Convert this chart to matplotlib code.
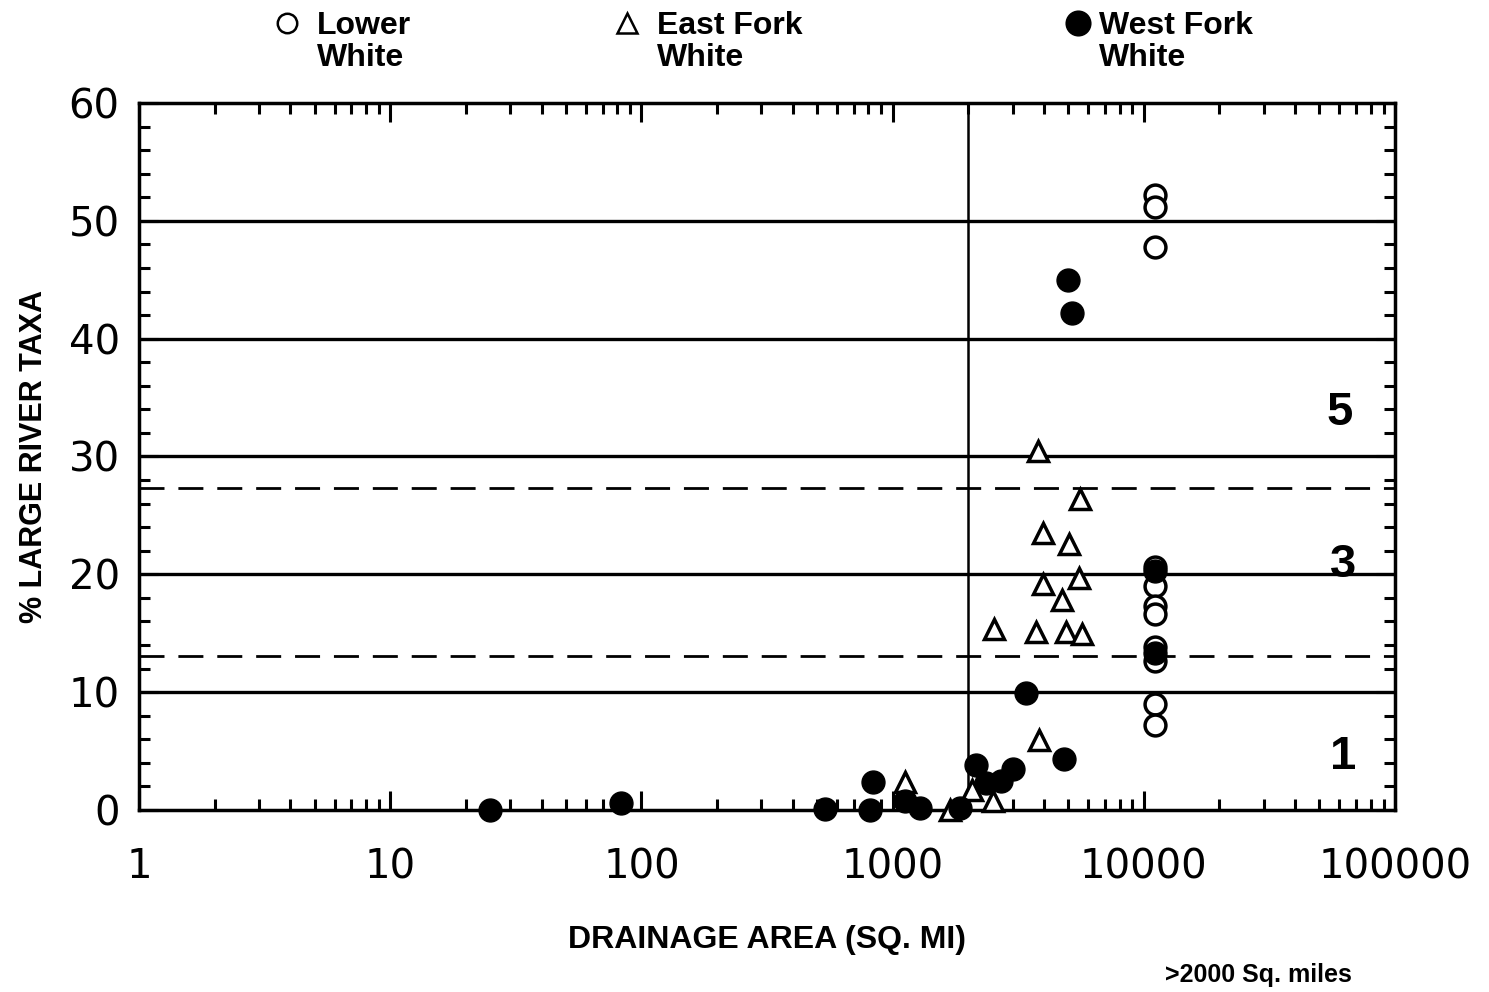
import numpy as np
import matplotlib.pyplot as plt
from matplotlib.lines import Line2D
from matplotlib.ticker import LogLocator, MultipleLocator, NullFormatter, FixedLocator, FixedFormatter

# ------------------------------------------------------------
# data: % large river taxa vs drainage area (sq. mi)
# ------------------------------------------------------------
lower_area = [11100, 11100, 11100, 11100, 11100, 11100, 11100, 11100, 11100, 11100, 11100]
lower_pct = [52.2, 51.2, 47.8, 20.6, 19.0, 17.3, 16.6, 13.8, 12.6, 9.0, 7.2]

east_area = [1120, 1694, 2070, 2500, 2535, 3720, 3790, 3828, 3970, 3970, 4725, 4900, 5040, 5520, 5575, 5680]
east_pct = [2.4, 0.0, 1.7, 0.8, 15.4, 15.1, 30.5, 5.9, 23.5, 19.2, 17.8, 15.1, 22.6, 19.7, 26.4, 14.9]

west_area = [25, 83, 540, 810, 836, 1120, 1290, 1850, 2150, 2360, 2700, 3000, 3380, 4800, 4990, 5180, 11100, 11100]
west_pct = [0.0, 0.6, 0.1, 0.0, 2.4, 0.8, 0.2, 0.2, 3.8, 2.3, 2.5, 3.5, 9.9, 4.3, 45.0, 42.2, 20.3, 13.3]

score_lines = [10, 20, 30, 40, 50]       # solid reference lines
score_breaks = [27.3, 13.1]              # dashed scoring thresholds
area_break = 2000                        # >2000 sq. miles
x_ticks = [1, 10, 100, 1000, 10000, 100000]
x_labels = ['1', '10', '100', '1000', '10000', '100000']
y_ticks = [0, 10, 20, 30, 40, 50, 60]
y_labels = ['0', '10', '20', '30', '40', '50', '60']
score_labels = ['5', '3', '1']
score_label_pos = [(60000, 33.7), (62000, 20.8), (62000, 4.5)]

BOLD = ['Liberation Sans', 'DejaVu Sans']

fig = plt.figure(figsize=(14.89, 9.92), dpi=100, facecolor='white')
ax = fig.add_axes([0.0934, 0.1835, 0.8435, 0.7127])

ax.set_xscale('log')
ax.set_xlim(1, 100000)
ax.set_ylim(0, 60)

for y in score_lines:
    ax.axhline(y, color='black', lw=2.4, zorder=1)
for y in score_breaks:
    ax.axhline(y, color='black', lw=2.0, ls=(0, (9, 5)), zorder=1)
ax.axvline(area_break, color='black', lw=1.8, zorder=1)

ms = 15
ax.plot(lower_area, lower_pct, 'o', ms=ms, mfc='white', mec='black', mew=2.5,
        clip_on=False, zorder=3)
ax.plot(east_area, east_pct, '^', ms=ms, mfc='white', mec='black', mew=2.5,
        clip_on=False, zorder=4)
ax.plot(west_area, west_pct, 'o', ms=ms + 1.5, mfc='black', mec='black', mew=1,
        clip_on=False, zorder=5)

for lab, (xx, yy) in zip(score_labels, score_label_pos):
    ax.text(xx, yy, lab, fontsize=34, fontweight='bold', family='Liberation Sans',
            ha='center', va='center', zorder=6)

# frame and ticks
for s in ax.spines.values():
    s.set_linewidth(2.5)
ax.xaxis.set_major_locator(FixedLocator(x_ticks))
ax.xaxis.set_major_formatter(FixedFormatter(x_labels))
ax.xaxis.set_minor_locator(LogLocator(base=10, subs=np.arange(2, 10)))
ax.xaxis.set_minor_formatter(NullFormatter())
ax.yaxis.set_major_locator(FixedLocator(y_ticks))
ax.yaxis.set_major_formatter(FixedFormatter(y_labels))
ax.yaxis.set_minor_locator(MultipleLocator(2))
ax.tick_params(which='both', direction='in', top=True, right=True, width=2.2)
ax.tick_params(which='major', length=14)
ax.tick_params(which='minor', length=8)
ax.tick_params(axis='x', which='major', pad=27, labelsize=29)
ax.tick_params(axis='y', which='major', pad=14, labelsize=29)

ax.set_xlabel('DRAINAGE AREA (SQ. MI)', fontsize=23, fontweight='bold',
              family=BOLD, labelpad=27)
ax.set_ylabel('% LARGE RIVER TAXA', fontsize=22, fontweight='bold',
              family=BOLD, labelpad=14)

fig.text(0.845, 0.017, '>2000 Sq. miles', fontsize=18, fontweight='bold',
         family=BOLD, ha='center', va='center')

# series key across the top: (marker x, text x, marker, fill, label)
key = [
    (0.193, 0.213, 'o', 'white', 'Lower\nWhite'),
    (0.421, 0.441, '^', 'white', 'East Fork\nWhite'),
    (0.724, 0.738, 'o', 'black', 'West Fork\nWhite'),
]
for kx, tx, mk, fc, txt in key:
    fig.add_artist(Line2D([kx], [0.977], transform=fig.transFigure, marker=mk,
                          ms=14 if fc == 'white' else 17, mfc=fc, mec='black',
                          mew=1.8, ls='none'))
    fig.text(tx, 0.958, txt, fontsize=23, fontweight='bold', family=BOLD,
             ha='left', va='center', linespacing=1.1)

fig.savefig('out.png', dpi=100, facecolor='white')
